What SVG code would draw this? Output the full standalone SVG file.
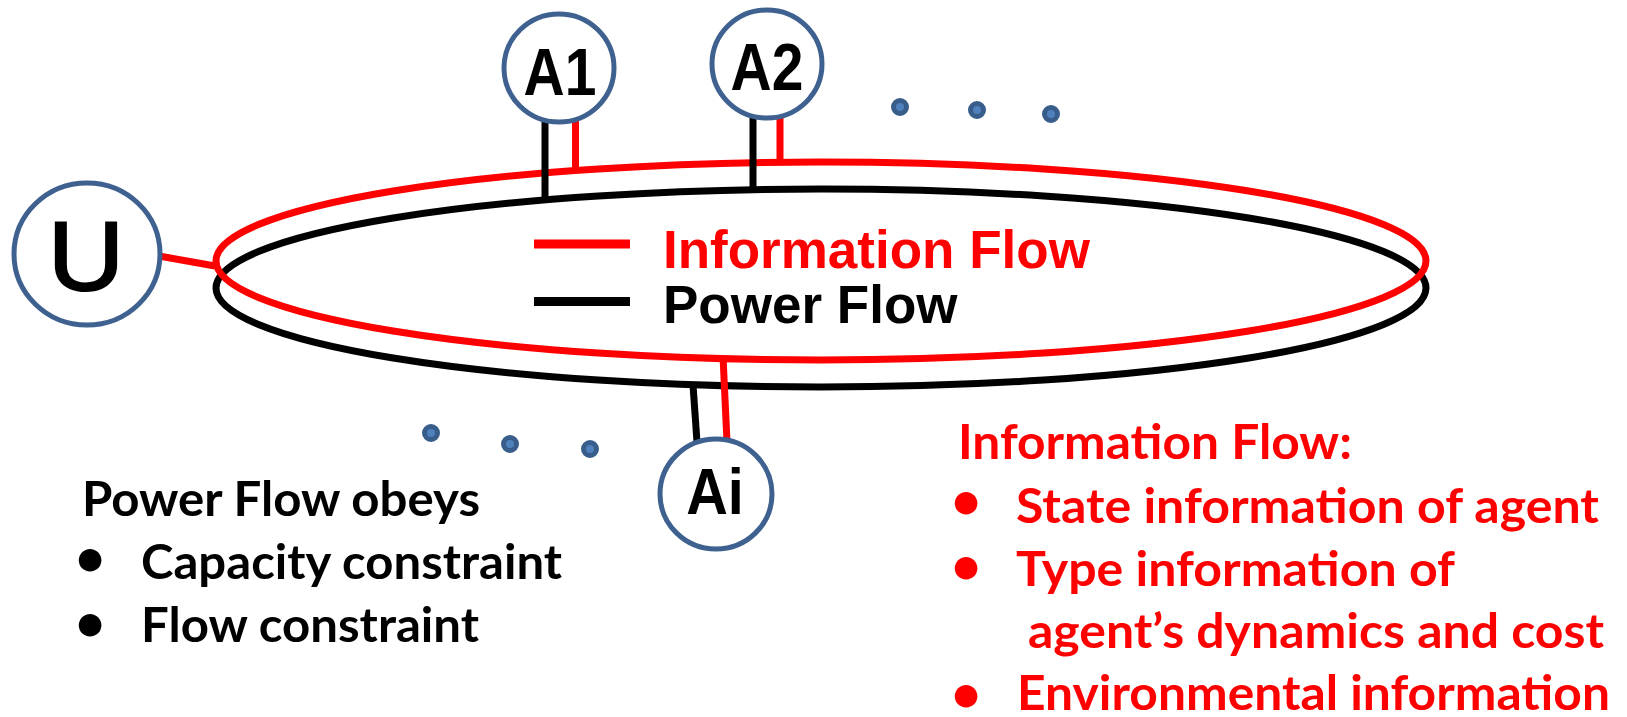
<svg xmlns="http://www.w3.org/2000/svg" width="1627" height="717" viewBox="0 0 1627 717">
<style>
.node{fill:#fff;stroke:#3F6190;stroke-width:5}
.lbl{font-family:"Liberation Sans",Arial,sans-serif;font-weight:bold;fill:#000;text-anchor:middle}
.lbln{font-family:"Liberation Sans",Arial,sans-serif;font-weight:normal;fill:#000;stroke:#000;stroke-width:2;text-anchor:middle}
.pw{stroke:#000;stroke-width:7;fill:none}
.inf{stroke:#f00;stroke-width:7;fill:none}
.dot{fill:#4F81BD;stroke:#385D8A;stroke-width:5}
.leg{font-family:"Liberation Sans",Arial,sans-serif;font-weight:bold;font-size:53px}
.txt{font-family:Lato,"Open Sans",sans-serif;font-weight:bold;font-size:47px}
.bul{font-family:Lato,"Open Sans",sans-serif;font-weight:bold;font-size:52px;text-anchor:middle}
.red{fill:#f00}
.blk{fill:#000}
</style>
<rect width="1627" height="717" fill="#fff"/>
<g id="ring">
<ellipse class="pw" cx="821" cy="288" rx="605" ry="99"/>
<ellipse class="inf" cx="821" cy="261" rx="605" ry="99"/>
</g>
<g id="connectors">
<line class="inf" x1="159" y1="256" x2="215" y2="266"/>
<line class="inf" x1="575.5" y1="121" x2="575.5" y2="171"/>
<line class="pw" x1="545" y1="121" x2="545" y2="198"/>
<line class="inf" x1="780" y1="116" x2="780" y2="163"/>
<line class="pw" x1="753" y1="116" x2="753" y2="190"/>
<line class="pw" x1="693" y1="385" x2="697" y2="442"/>
<line class="inf" x1="723" y1="356" x2="727" y2="442"/>
</g>
<g id="legend">
<line x1="534" y1="244" x2="630" y2="244" stroke="#f00" stroke-width="9"/>
<line x1="534" y1="301.5" x2="630" y2="301.5" stroke="#000" stroke-width="9"/>
<text class="leg red" x="663" y="268">Information Flow</text>
<text class="leg blk" x="663" y="323">Power Flow</text>
</g>
<g id="node-U">
<ellipse class="node" cx="87" cy="254" rx="73" ry="71"/>
<text class="lbln" transform="translate(86,290) scale(1.08,1)" font-size="98">U</text>
</g>
<g id="node-A1">
<ellipse class="node" cx="559" cy="68" rx="55" ry="54"/>
<text class="lbl" transform="translate(560,95) scale(0.85,1)" font-size="67">A1</text>
</g>
<g id="node-A2">
<ellipse class="node" cx="767" cy="64" rx="55" ry="54"/>
<text class="lbl" transform="translate(767,90) scale(0.85,1)" font-size="67">A2</text>
</g>
<g id="node-Ai">
<ellipse class="node" cx="716" cy="494" rx="56" ry="55"/>
<text class="lbl" transform="translate(715,514) scale(0.9,1)" font-size="64">Ai</text>
</g>
<g id="dots">
<circle class="dot" cx="900" cy="107" r="6.5"/>
<circle class="dot" cx="977" cy="110" r="6.5"/>
<circle class="dot" cx="1051" cy="114" r="6.5"/>
<circle class="dot" cx="431" cy="433" r="6.5"/>
<circle class="dot" cx="510" cy="444" r="6.5"/>
<circle class="dot" cx="590" cy="449" r="6.5"/>
</g>
<g id="power-notes">
<text class="txt blk" x="82" y="516" textLength="398" lengthAdjust="spacingAndGlyphs">Power Flow obeys</text>
<text class="bul blk" x="90" y="576">•</text>
<text class="txt blk" x="141" y="579" textLength="421" lengthAdjust="spacingAndGlyphs">Capacity constraint</text>
<text class="bul blk" x="90" y="641">•</text>
<text class="txt blk" x="141" y="642" textLength="338" lengthAdjust="spacingAndGlyphs">Flow constraint</text>
</g>
<g id="info-notes">
<text class="txt red" x="958" y="459" textLength="394" lengthAdjust="spacingAndGlyphs">Information Flow:</text>
<text class="bul red" x="966" y="519">•</text>
<text class="txt red" x="1016" y="523" textLength="583" lengthAdjust="spacingAndGlyphs">State information of agent</text>
<text class="bul red" x="966" y="584">•</text>
<text class="txt red" x="1016" y="586" textLength="439" lengthAdjust="spacingAndGlyphs">Type information of</text>
<text class="txt red" x="1028" y="648" textLength="576" lengthAdjust="spacingAndGlyphs">agent’s dynamics and cost</text>
<text class="bul red" x="966" y="712">•</text>
<text class="txt red" x="1017" y="710" textLength="593" lengthAdjust="spacingAndGlyphs">Environmental information</text>
</g>
</svg>
